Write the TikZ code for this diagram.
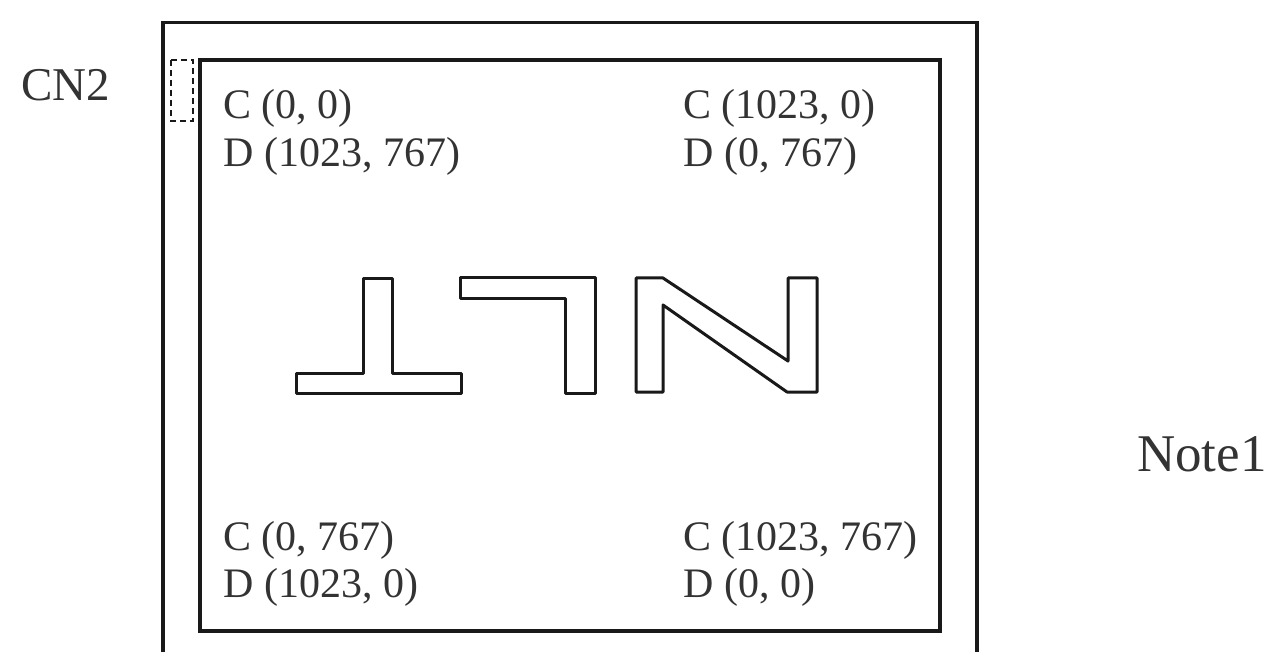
\documentclass[tikz,border=0pt]{standalone}
\usepackage{fontspec}
\setmainfont{Liberation Serif}
\begin{document}
\begin{tikzpicture}[x=1pt,y=-1pt,
  frame/.style={draw=black!90,line width=3.2pt},
  glyph/.style={draw=black!90,line width=3pt,line join=round},
  lbl/.style={anchor=base west,inner sep=0pt,font=\fontsize{42}{48}\selectfont,text=black!80},
  biglbl/.style={anchor=base west,inner sep=0pt,text=black!80}]
\useasboundingbox (0,0) rectangle (1269,652);
% outer frame (open at bottom, runs off the page)
\draw[frame] (163,670) -- (163,22.5) -- (977,22.5) -- (977,670);
% inner frame
\draw[frame] (200,60) rectangle (940,631);
% dashed connector outline
\draw[draw=black!90,line width=2pt,dash pattern=on 6pt off 4pt] (171,60) rectangle (193,121);
% labels
\node[biglbl,font=\fontsize{47}{50}\selectfont] (cn2) at (21,101) {CN2};
\node[biglbl,font=\fontsize{53}{56}\selectfont] (note) at (1137,471) {Note1};
\node[lbl] (c1) at (223,119) {C (0, 0)};
\node[lbl] (d1) at (223,166.5) {D (1023, 767)};
\node[lbl] (c2) at (683,119) {C (1023, 0)};
\node[lbl] (d2) at (683,166.5) {D (0, 767)};
\node[lbl] (c3) at (223,550) {C (0, 767)};
\node[lbl] (d3) at (223,597) {D (1023, 0)};
\node[lbl] (c4) at (683,550) {C (1023, 767)};
\node[lbl] (d4) at (683,597) {D (0, 0)};
% rotated "LCT"-like glyphs
\draw[glyph] (296,373) -- (363,373) -- (363,279) -- (392,279) -- (392,373) -- (461,373) -- (461,393) -- (296,393) -- cycle;
\draw[glyph] (460,278) -- (595,278) -- (595,393) -- (565,393) -- (565,299) -- (460,299) -- cycle;
\draw[glyph] (636,278) -- (663,278) -- (788,361) -- (788,278) -- (817,278) -- (817,392) -- (787,392) -- (663,305) -- (663,392) -- (636,392) -- cycle;
\end{tikzpicture}
\end{document}
